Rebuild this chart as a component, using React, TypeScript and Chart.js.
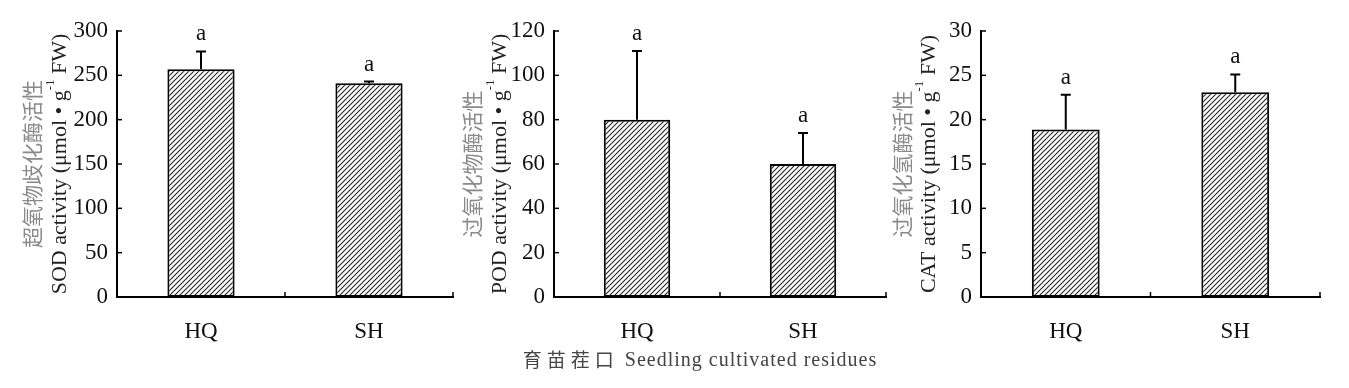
import React, { useEffect, useRef } from "react";
import { Chart, registerables } from "chart.js";
Chart.register(...registerables);

// ---- data ----
const categories = ["HQ", "SH"];

const sodValues = [257, 241];
const sodErrors = [20, 2];
const sodLetters = ["a", "a"];
const sodTicks = [0, 50, 100, 150, 200, 250, 300];

const podValues = [80, 60];
const podErrors = [31, 14];
const podLetters = ["a", "a"];
const podTicks = [0, 20, 40, 60, 80, 100, 120];

const catValues = [18.9, 23.1];
const catErrors = [3.9, 2];
const catLetters = ["a", "a"];
const catTicks = [0, 5, 10, 15, 20, 25, 30];

const sodTitleCn = "超氧物歧化酶活性";
const sodTitleEn = "SOD activity";
const podTitleCn = "过氧化物酶活性";
const podTitleEn = "POD activity";
const catTitleCn = "过氧化氢酶活性";
const catTitleEn = "CAT activity";
const unitA = " (μmol • g";
const unitSup = "-1";
const unitB = " FW)";
const xTitleCn = "育苗茬口";
const xTitleEn = "Seedling cultivated residues";

const SERIF = "'Liberation Serif', 'Times New Roman', 'Noto Sans CJK SC', serif";
const CJK = "'Noto Sans CJK SC', sans-serif";

function makePattern(): CanvasPattern | string {
  const c = document.createElement("canvas");
  c.width = 5;
  c.height = 5;
  const g = c.getContext("2d");
  if (!g) return "#888";
  g.fillStyle = "#ffffff";
  g.fillRect(0, 0, 5, 5);
  g.strokeStyle = "#2a2a2a";
  g.lineWidth = 1.15;
  g.beginPath();
  g.moveTo(-1, 6);
  g.lineTo(6, -1);
  g.moveTo(-1, 1);
  g.lineTo(1, -1);
  g.moveTo(4, 6);
  g.lineTo(6, 4);
  g.stroke();
  return g.createPattern(c, "repeat") || "#888";
}

type PanelProps = {
  left: number;
  width: number;
  yWidth: number;
  padRight: number;
  values: number[];
  errors: number[];
  letters: string[];
  ticks: number[];
  titleCn: string;
  titleEn: string;
  cnX: number;
  enX: number;
  bottomTitle?: boolean;
};

function Panel(p: PanelProps) {
  const ref = useRef<HTMLCanvasElement | null>(null);
  useEffect(() => {
    const canvas = ref.current;
    if (!canvas) return;
    const pattern = makePattern();
    const step = p.ticks[1] - p.ticks[0];
    const plugin = {
      id: "custom" + p.left,
      afterDatasetsDraw(chart: any) {
        const ctx: CanvasRenderingContext2D = chart.ctx;
        const ys = chart.scales.y;
        const xs = chart.scales.x;
        const area = chart.chartArea;
        ctx.save();
        // error bars + letters
        const meta = chart.getDatasetMeta(0);
        meta.data.forEach((bar: any, i: number) => {
          const x = bar.x;
          const yTop = bar.y;
          const yErr = ys.getPixelForValue(p.values[i] + p.errors[i]);
          ctx.strokeStyle = "#000";
          ctx.lineWidth = 2;
          ctx.beginPath();
          ctx.moveTo(x, yTop);
          ctx.lineTo(x, yErr);
          ctx.moveTo(x - 5, yErr);
          ctx.lineTo(x + 5, yErr);
          ctx.stroke();
          ctx.fillStyle = "#111";
          ctx.font = "23px " + SERIF;
          ctx.textAlign = "center";
          ctx.textBaseline = "alphabetic";
          ctx.fillText(p.letters[i], x, yErr - 11);
        });
        // y ticks inward
        ctx.strokeStyle = "#000";
        ctx.lineWidth = 1.5;
        ys.ticks.forEach((t: any) => {
          const py = ys.getPixelForValue(t.value);
          ctx.beginPath();
          ctx.moveTo(area.left, py);
          ctx.lineTo(area.left + 5, py);
          ctx.stroke();
        });
        // x ticks at category boundaries, inward
        const p0 = xs.getPixelForValue(0);
        const p1 = xs.getPixelForValue(1);
        const bounds = [area.left, (p0 + p1) / 2, area.right];
        bounds.forEach((bx) => {
          ctx.beginPath();
          ctx.moveTo(bx, area.bottom);
          ctx.lineTo(bx, area.bottom - 5);
          ctx.stroke();
        });
        ctx.restore();
      },
      afterDraw(chart: any) {
        const ctx: CanvasRenderingContext2D = chart.ctx;
        const area = chart.chartArea;
        const yc = (area.top + area.bottom) / 2;
        ctx.save();
        // Chinese title line
        ctx.translate(p.cnX, yc);
        ctx.rotate(-Math.PI / 2);
        ctx.fillStyle = "#8a8a8a";
        ctx.font = "21px " + CJK;
        ctx.textAlign = "center";
        ctx.textBaseline = "middle";
        ctx.fillText(p.titleCn, 0, 0);
        ctx.restore();

        // English title line with superscript
        ctx.save();
        ctx.translate(p.enX, yc);
        ctx.rotate(-Math.PI / 2);
        ctx.fillStyle = "#222";
        ctx.textBaseline = "middle";
        ctx.textAlign = "left";
        const mainFont = "22px " + SERIF;
        const supFont = "13px " + SERIF;
        const partA = p.titleEn + unitA;
        ctx.font = mainFont;
        const wA = ctx.measureText(partA).width;
        const wB = ctx.measureText(unitB).width;
        ctx.font = supFont;
        const wS = ctx.measureText(unitSup).width;
        const total = wA + wS + wB;
        let cx = -total / 2;
        ctx.font = mainFont;
        ctx.fillText(partA, cx, 0);
        cx += wA;
        ctx.font = supFont;
        ctx.fillText(unitSup, cx, -9);
        cx += wS;
        ctx.font = mainFont;
        ctx.fillText(unitB, cx, 0);
        ctx.restore();

        if (p.bottomTitle) {
          ctx.save();
          ctx.fillStyle = "#444";
          ctx.textBaseline = "middle";
          ctx.textAlign = "left";
          (ctx as any).letterSpacing = "5px";
          ctx.font = "19px " + CJK;
          const wc = ctx.measureText(xTitleCn).width;
          (ctx as any).letterSpacing = "1px";
          ctx.font = "20px " + SERIF;
          const we = ctx.measureText(" " + xTitleEn).width;
          const tot = wc + we;
          const xCenter = 700 - p.left;
          let bx = xCenter - tot / 2;
          (ctx as any).letterSpacing = "5px";
          ctx.font = "19px " + CJK;
          ctx.fillText(xTitleCn, bx, 360);
          bx += wc;
          (ctx as any).letterSpacing = "1px";
          ctx.font = "20px " + SERIF;
          ctx.fillText(" " + xTitleEn, bx, 361);
          ctx.restore();
        }
      },
    };

    const chart = new Chart(canvas, {
      type: "bar",
      data: {
        labels: categories,
        datasets: [
          {
            data: p.values,
            backgroundColor: pattern as any,
            borderColor: "#000",
            borderWidth: 2,
            borderSkipped: false,
            barPercentage: 0.4,
            categoryPercentage: 1,
          },
        ],
      },
      options: {
        responsive: false,
        animation: false,
        events: [],
        layout: { padding: { left: 0, right: p.padRight, top: 31, bottom: 0 } },
        plugins: {
          legend: { display: false },
          tooltip: { enabled: false },
          title: { display: false },
        },
        scales: {
          x: {
            grid: { display: false, drawTicks: false },
            border: { display: true, color: "#000", width: 2 },
            ticks: {
              color: "#111",
              font: { family: SERIF, size: 23 },
              padding: 21,
            },
            afterFit: (scale: any) => {
              scale.height = 91;
            },
          },
          y: {
            min: p.ticks[0],
            max: p.ticks[p.ticks.length - 1],
            grid: { display: false, drawTicks: false },
            border: { display: true, color: "#000", width: 2 },
            ticks: {
              stepSize: step,
              color: "#111",
              font: { family: SERIF, size: 23 },
              padding: 9,
            },
            afterFit: (scale: any) => {
              scale.width = p.yWidth;
            },
          },
        },
      },
      plugins: [plugin],
    });
    return () => chart.destroy();
  }, []);

  return (
    <canvas
      ref={ref}
      width={p.width}
      height={388}
      style={{ position: "absolute", left: p.left, top: 0, width: p.width, height: 388 }}
    />
  );
}

export default function App() {
  return (
    <div style={{ position: "absolute", left: 0, top: 0, width: 1349, height: 388, background: "#fff" }}>
      <Panel
        left={0}
        width={455}
        yWidth={117}
        padRight={2}
        values={sodValues}
        errors={sodErrors}
        letters={sodLetters}
        ticks={sodTicks}
        titleCn={sodTitleCn}
        titleEn={sodTitleEn}
        cnX={32}
        enX={60}
      />
      <Panel
        left={455}
        width={435}
        yWidth={99}
        padRight={4}
        values={podValues}
        errors={podErrors}
        letters={podLetters}
        ticks={podTicks}
        titleCn={podTitleCn}
        titleEn={podTitleEn}
        cnX={17}
        enX={45}
        bottomTitle={true}
      />
      <Panel
        left={890}
        width={459}
        yWidth={91}
        padRight={29}
        values={catValues}
        errors={catErrors}
        letters={catLetters}
        ticks={catTicks}
        titleCn={catTitleCn}
        titleEn={catTitleEn}
        cnX={12}
        enX={39}
      />
    </div>
  );
}
